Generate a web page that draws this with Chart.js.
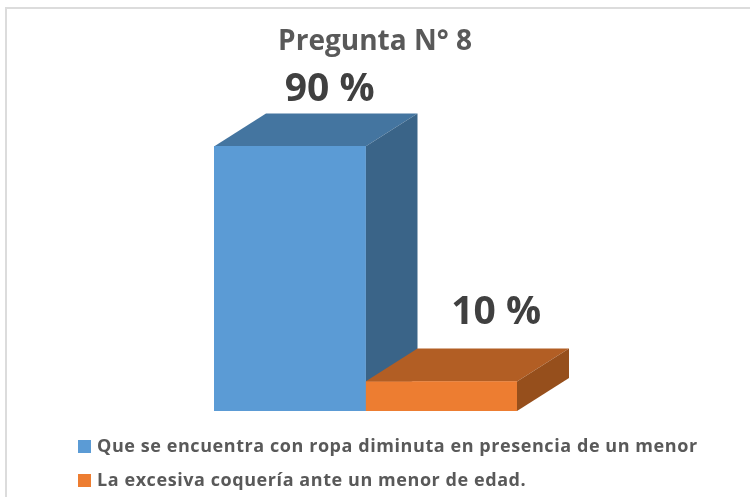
<!DOCTYPE html>
<html>
<head>
    <title>Pregunta N° 8</title>
    <script src="https://cdn.jsdelivr.net/npm/chart.js"></script>
    <style>
        html, body { margin: 0; padding: 0; background: #fff; }
        body { width: 750px; height: 497px; position: relative; overflow: hidden; font-family: "Open Sans", sans-serif; }
        #frame { position: absolute; left: 5px; top: 7px; width: 745px; height: 490px; border-left: 2px solid #dcdcdc; border-top: 2px solid #dcdcdc; box-sizing: border-box; }
        #chart { position: absolute; left: 0; top: 0; }
        #title { position: absolute; left: 0; width: 750px; top: 20px; text-align: center; font-size: 28px; font-weight: 700; color: #595959; }
        .legend-row { position: absolute; left: 78px; font-size: 18px; letter-spacing: 0.57px; font-weight: 700; color: #595959; white-space: nowrap; }
        .legend-row i { display: inline-block; width: 13px; height: 13px; margin-right: 6px; vertical-align: -1px; }
    </style>
</head>
<body>
    <div id="frame"></div>
    <canvas id="chart" width="750" height="497"></canvas>
    <div id="title">Pregunta N° 8</div>
    <div id="legend"></div>

    <script>
        const categories = ['Pregunta N° 8'];
        const seriesNames = ['Que se encuentra con ropa diminuta en presencia de un menor', 'La excesiva coquería ante un menor de edad.'];
        const seriesValues = [90, 10];

        const frontColors = ['#5B9BD5', '#ED7D31'];
        const topColors = ['#4475A0', '#B25E24'];
        const sideColors = ['#3A6488', '#964F1C'];
        const labelOffsets = [[40, -4], [55, -16]];
        const depthX = 52, depthY = 33;

        function face(ctx, pts, color) {
            ctx.beginPath();
            ctx.moveTo(pts[0][0], pts[0][1]);
            pts.slice(1).forEach(p => ctx.lineTo(p[0], p[1]));
            ctx.closePath();
            ctx.fillStyle = color;
            ctx.fill();
        }

        // Chart.js has no 3D bars, so the top and side faces follow each bar's own element
        const depthPlugin = {
            id: 'depth',
            beforeDatasetsDraw(chart) {
                const ctx = chart.ctx;
                chart.data.datasets.forEach((ds, i) => {
                    const bar = chart.getDatasetMeta(i).data[0];
                    const l = bar.x - bar.width / 2, r = bar.x + bar.width / 2;
                    const t = bar.y, b = bar.base;
                    face(ctx, [[l, t], [l + depthX, t - depthY], [r + depthX, t - depthY], [r, t]], topColors[i]);
                    face(ctx, [[r, t], [r + depthX, t - depthY], [r + depthX, b - depthY], [r, b]], sideColors[i]);
                });
            },
            afterDatasetsDraw(chart) {
                const ctx = chart.ctx;
                ctx.save();
                chart.data.datasets.forEach((ds, i) => {
                    const bar = chart.getDatasetMeta(i).data[0];
                    ctx.font = '700 39px "Open Sans", sans-serif';
                    ctx.fillStyle = '#404040';
                    ctx.textAlign = 'center';
                    ctx.textBaseline = 'bottom';
                    ctx.fillText(ds.data[0] + ' %', bar.x + labelOffsets[i][0], bar.y - depthY + labelOffsets[i][1]);
                });
                ctx.restore();
            }
        };

        new Chart(document.getElementById('chart').getContext('2d'), {
            type: 'bar',
            data: {
                labels: categories,
                datasets: seriesNames.map((name, i) => ({
                    label: name,
                    data: [seriesValues[i]],
                    backgroundColor: frontColors[i],
                    categoryPercentage: 1,
                    barPercentage: 1
                }))
            },
            options: {
                responsive: false,
                animation: false,
                layout: { padding: { left: 214, right: 233, top: 117, bottom: 86 } },
                plugins: { legend: { display: false }, title: { display: false }, tooltip: { enabled: false } },
                scales: {
                    x: { display: false },
                    y: { display: false, min: 0, max: 100 }
                }
            },
            plugins: [depthPlugin]
        });

        // Legend rows sit under the bars as in the original
        const legend = document.getElementById('legend');
        seriesNames.forEach((name, i) => {
            const row = document.createElement('div');
            row.className = 'legend-row';
            row.style.top = (433 + i * 34) + 'px';
            row.innerHTML = `<i style="background:${frontColors[i]}"></i>${name}`;
            legend.appendChild(row);
        });
    </script>
</body>
</html>
